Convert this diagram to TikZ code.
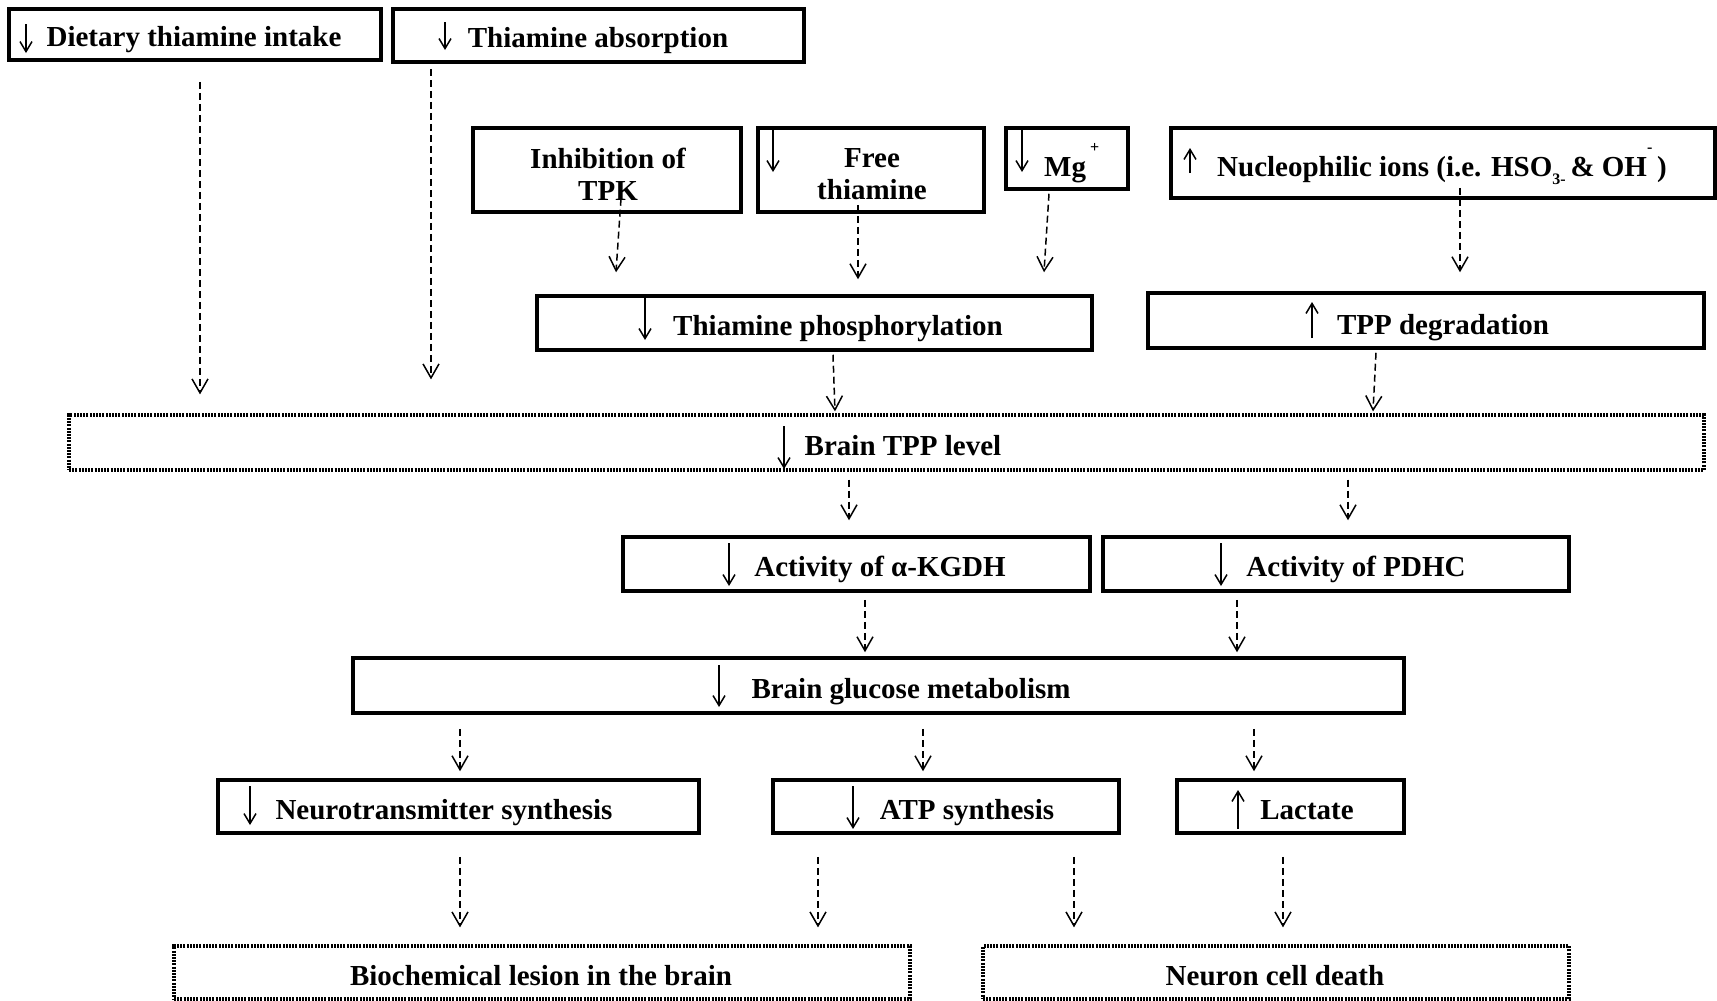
\documentclass[tikz,border=0pt]{standalone}
\usepackage{fontspec}
\setmainfont{Liberation Serif}
\usetikzlibrary{arrows.meta,calc}
\newcommand{\smallsc}{\fontsize{16}{16}\selectfont}
\begin{document}
\begin{tikzpicture}[x=1pt,y=-1pt,
  box/.style={draw,line width=3.5pt,rectangle,inner sep=0pt},
  dbox/.style={draw,line width=3.2pt,dash pattern=on 2pt off 1.2pt,rectangle,inner sep=0pt},
  txt/.style={font=\bfseries\fontsize{29}{32}\selectfont,inner sep=0pt,anchor=base},
  dar/.style={line width=1.5pt,dash pattern=on 7pt off 4pt,-{Straight Barb[length=14pt,width=16pt,line width=1.5pt]}},
  gar/.style={line width=1.5pt,-{Straight Barb[length=10pt,width=12pt,line width=1.5pt]}}]
\useasboundingbox (0,0) rectangle (1717,1001);
\fill[white] (0,0) rectangle (1717,1001);

% boxes
\node[box,minimum width=372pt,minimum height=51pt] (diet) at (195,34.5) {};
\node[box,minimum width=411pt,minimum height=53pt] (absorb) at (598.5,35.5) {};
\node[box,minimum width=268pt,minimum height=84pt] (tpk) at (607,170) {};
\node[box,minimum width=226pt,minimum height=84pt] (free) at (871,170) {};
\node[box,minimum width=122pt,minimum height=61pt] (mg) at (1067,158.5) {};
\node[box,minimum width=544pt,minimum height=70pt] (nuc) at (1443,163) {};
\node[box,minimum width=555pt,minimum height=54pt] (phos) at (814.5,323) {};
\node[box,minimum width=556pt,minimum height=55pt] (deg) at (1426,320.5) {};
\node[dbox,minimum width=1635pt,minimum height=55pt] (tpp) at (886.5,442.5) {};
\node[box,minimum width=467pt,minimum height=54pt] (kgdh) at (856.5,564) {};
\node[box,minimum width=466pt,minimum height=54pt] (pdhc) at (1336,564) {};
\node[box,minimum width=1051pt,minimum height=55pt] (gluc) at (878.5,685.5) {};
\node[box,minimum width=481pt,minimum height=53pt] (neuro) at (458.5,806.5) {};
\node[box,minimum width=346pt,minimum height=53pt] (atp) at (946,806.5) {};
\node[box,minimum width=227pt,minimum height=53pt] (lact) at (1290.5,806.5) {};
\node[dbox,minimum width=736pt,minimum height=53pt] (lesion) at (542,972.5) {};
\node[dbox,minimum width=586pt,minimum height=53pt] (death) at (1276,972.5) {};

% texts
\node[txt] (tdiet) at (194,46) {Dietary thiamine intake};
\node[txt] (tabs) at (598,47) {Thiamine absorption};
\node[txt,anchor=center,align=center] (ttpk) at (608,174) {Inhibition of\\TPK};
\node[txt,anchor=center,align=center] (tfree) at (872,174) {Free\\thiamine};
\node[txt,anchor=base west] (tmg) at (1044,176) {Mg\hspace{4pt}\raisebox{0.8em}{\smallsc +}};
\node[txt,anchor=base west] (tnuc) at (1217,176) {Nucleophilic ions (i.e. HSO\raisebox{-0.3em}{\smallsc 3-}\,\& OH\raisebox{0.8em}{\smallsc -}\,)};
\node[txt] (tphos) at (838,335) {Thiamine phosphorylation};
\node[txt] (tdeg) at (1443,334) {TPP degradation};
\node[txt] (ttpp) at (903,455) {Brain TPP level};
\node[txt] (tkgdh) at (880,576) {Activity of α-KGDH};
\node[txt] (tpdhc) at (1356,576) {Activity of PDHC};
\node[txt] (tgluc) at (911,698) {Brain glucose metabolism};
\node[txt] (tneuro) at (444,819) {Neurotransmitter synthesis};
\node[txt] (tatp) at (967,819) {ATP synthesis};
\node[txt] (tlact) at (1307,819) {Lactate};
\node[txt] (tlesion) at (541,985) {Biochemical lesion in the brain};
\node[txt] (tdeath) at (1275,985) {Neuron cell death};

% arrow glyphs inside the boxes
\draw[gar] (26,24) -- (26,53);
\draw[gar] (445,22) -- (445,50);
\draw[gar] (773,129) -- (773,172);
\draw[gar] (1022,129) -- (1022,172);
\draw[gar] (1190,173) -- (1190,148);
\draw[gar] (645,298) -- (645,340);
\draw[gar] (1312,338) -- (1312,302);
\draw[gar] (784,426) -- (784,469);
\draw[gar] (729,543) -- (729,586);
\draw[gar] (1221,543) -- (1221,586);
\draw[gar] (719,665) -- (719,707);
\draw[gar] (250,786) -- (250,825);
\draw[gar] (853,786) -- (853,829);
\draw[gar] (1238,829) -- (1238,790);

% connectors
\draw[dar] ($(200,0 |- diet.south)+(0,20)$) -- ($(200,0 |- tpp.north)+(0,-19)$);
\draw[dar] ($(431,0 |- absorb.south)+(0,5)$) -- ($(431,0 |- tpp.north)+(0,-34)$);
\draw[dar] ($(621,0 |- tpk.south)+(0,-15)$) -- ($(616,0 |- phos.north)+(0,-22)$);
\draw[dar] ($(858,0 |- free.south)+(0,-9)$) -- ($(858,0 |- phos.north)+(0,-15)$);
\draw[dar] ($(1049,0 |- mg.south)+(0,3)$) -- ($(1044,0 |- phos.north)+(0,-22)$);
\draw[dar] ($(1460,0 |- nuc.south)+(0,-12)$) -- ($(1460,0 |- deg.north)+(0,-19)$);
\draw[dar] ($(833,0 |- phos.south)+(0,3)$) -- ($(835,0 |- tpp.north)+(0,-2)$);
\draw[dar] ($(1376,0 |- deg.south)+(0,3)$) -- ($(1373,0 |- tpp.north)+(0,-2)$);
\draw[dar] ($(849,0 |- tpp.south)+(0,8)$) -- ($(849,0 |- kgdh.north)+(0,-15)$);
\draw[dar] ($(1348,0 |- tpp.south)+(0,8)$) -- ($(1348,0 |- pdhc.north)+(0,-15)$);
\draw[dar] ($(865,0 |- kgdh.south)+(0,7)$) -- ($(865,0 |- gluc.north)+(0,-4)$);
\draw[dar] ($(1237,0 |- pdhc.south)+(0,7)$) -- ($(1237,0 |- gluc.north)+(0,-4)$);
\draw[dar] ($(460,0 |- gluc.south)+(0,14)$) -- ($(460,0 |- neuro.north)+(0,-7)$);
\draw[dar] ($(923,0 |- gluc.south)+(0,14)$) -- ($(923,0 |- atp.north)+(0,-7)$);
\draw[dar] ($(1254,0 |- gluc.south)+(0,14)$) -- ($(1254,0 |- lact.north)+(0,-7)$);
\draw[dar] ($(460,0 |- neuro.south)+(0,22)$) -- ($(460,0 |- lesion.north)+(0,-17)$);
\draw[dar] ($(818,0 |- atp.south)+(0,22)$) -- ($(818,0 |- lesion.north)+(0,-17)$);
\draw[dar] ($(1074,0 |- atp.south)+(0,22)$) -- ($(1074,0 |- death.north)+(0,-17)$);
\draw[dar] ($(1283,0 |- lact.south)+(0,22)$) -- ($(1283,0 |- death.north)+(0,-17)$);
\end{tikzpicture}
\end{document}
